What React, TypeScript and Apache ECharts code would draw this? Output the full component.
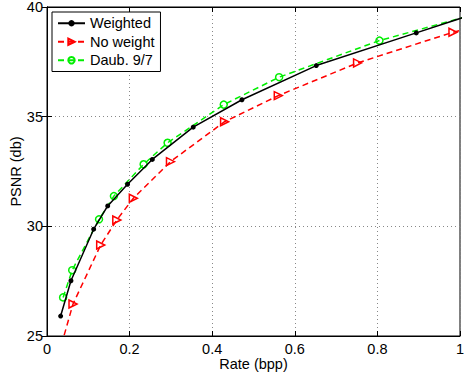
import React, { useEffect, useRef } from "react";
import * as echarts from "echarts";

const weightedX = [0.033, 0.058, 0.113, 0.147, 0.195, 0.255, 0.354, 0.472, 0.652, 0.894, 1.15];
const weightedY = [25.91, 27.52, 29.87, 30.93, 31.92, 33.05, 34.52, 35.77, 37.33, 38.82, 40.4];

const noWeightX = [0.035, 0.063, 0.13, 0.169, 0.209, 0.299, 0.43, 0.56, 0.752, 0.983, 1.2];
const noWeightY = [24.6, 26.46, 29.15, 30.29, 31.28, 32.95, 34.77, 35.96, 37.45, 38.85, 39.9];

const daubX = [0.039, 0.061, 0.126, 0.162, 0.234, 0.292, 0.428, 0.562, 0.805, 1.1];
const daubY = [26.76, 28.0, 30.32, 31.38, 32.83, 33.81, 35.55, 36.8, 38.47, 40.0];

const seriesNames = ["Weighted", "No weight", "Daub. 9/7"];
const xTitle = "Rate (bpp)";
const yTitle = "PSNR (db)";

const FONT = "'Liberation Sans', Arial, Helvetica, sans-serif";
const GREEN = "#00ee00";

const zip = (xs: number[], ys: number[]) => xs.map((x, i) => [x, ys[i]]);

export default function App() {
  const ref = useRef<HTMLDivElement>(null);
  useEffect(() => {
    if (!ref.current) return;
    const chart = echarts.init(ref.current, undefined, { renderer: "svg" });
    const axisCommon = {
      axisLine: { show: true, lineStyle: { color: "#000", width: 1 } },
      axisTick: { show: true, inside: true, length: 5, lineStyle: { color: "#000" } },
    };
    chart.setOption({
      animation: false,
      backgroundColor: "#fff",
      textStyle: { fontFamily: FONT },
      grid: {
        left: 47,
        right: 4,
        top: 7,
        bottom: 40,
        outerBoundsMode: "none",
        containLabel: false,
        show: true,
        borderColor: "#000",
        borderWidth: 1,
        backgroundColor: "#fff",
      },
      legend: {
        data: seriesNames,
        orient: "vertical",
        left: 52,
        top: 12,
        backgroundColor: "#fff",
        borderColor: "#000",
        borderWidth: 1,
        borderRadius: 0,
        padding: [3, 6, 3, 5],
        itemWidth: 27,
        itemHeight: 8,
        itemGap: 2,
        textStyle: { fontFamily: FONT, fontSize: 14.5, color: "#000", lineHeight: 16.5 },
      },
      xAxis: [
        {
          type: "value",
          min: 0,
          max: 1,
          interval: 0.2,
          name: xTitle,
          nameLocation: "middle",
          nameGap: 20,
          nameMoveOverlap: false,
          nameTextStyle: { fontFamily: FONT, fontSize: 14.5, color: "#000" },
          axisLabel: { fontFamily: FONT, fontSize: 14.5, color: "#000", margin: 5 },
          splitLine: { show: true, lineStyle: { color: "#888", type: [1, 3], width: 1 } },
          ...axisCommon,
        },
        {
          type: "value",
          position: "top",
          min: 0,
          max: 1,
          interval: 0.2,
          axisLabel: { show: false },
          splitLine: { show: false },
          ...axisCommon,
        },
      ],
      yAxis: [
        {
          type: "value",
          min: 25,
          max: 40,
          interval: 5,
          name: yTitle,
          nameLocation: "middle",
          nameGap: 24,
          nameMoveOverlap: false,
          nameTextStyle: { fontFamily: FONT, fontSize: 14.5, color: "#000" },
          axisLabel: { fontFamily: FONT, fontSize: 14.5, color: "#000", margin: 4 },
          splitLine: { show: true, lineStyle: { color: "#888", type: [1, 3], width: 1 } },
          ...axisCommon,
        },
        {
          type: "value",
          position: "right",
          min: 25,
          max: 40,
          interval: 5,
          axisLabel: { show: false },
          splitLine: { show: false },
          ...axisCommon,
        },
      ],
      series: [
        {
          name: seriesNames[0],
          type: "line",
          data: zip(weightedX, weightedY),
          clip: true,
          symbol: "circle",
          symbolSize: 5,
          lineStyle: { color: "#000", width: 1.5, type: "solid" },
          itemStyle: { color: "#000", borderColor: "#000", borderWidth: 0 },
          z: 4,
        },
        {
          name: seriesNames[1],
          type: "line",
          data: zip(noWeightX, noWeightY),
          clip: true,
          symbol: "triangle",
          symbolRotate: -90,
          symbolSize: 8,
          lineStyle: { color: "#ff0000", width: 1.5, type: [6, 4] },
          itemStyle: { color: "rgba(255,255,255,0)", borderColor: "#ff0000", borderWidth: 1.5 },
          z: 3,
        },
        {
          name: seriesNames[2],
          type: "line",
          data: zip(daubX, daubY),
          clip: true,
          symbol: "circle",
          symbolSize: 7,
          lineStyle: { color: GREEN, width: 1.5, type: [6, 4] },
          itemStyle: { color: "rgba(255,255,255,0)", borderColor: GREEN, borderWidth: 1.5 },
          z: 3,
        },
      ],
    });
    return () => chart.dispose();
  }, []);
  return (
    <div
      ref={ref}
      style={{ position: "fixed", left: 0, top: 0, width: 464, height: 376 }}
    />
  );
}
